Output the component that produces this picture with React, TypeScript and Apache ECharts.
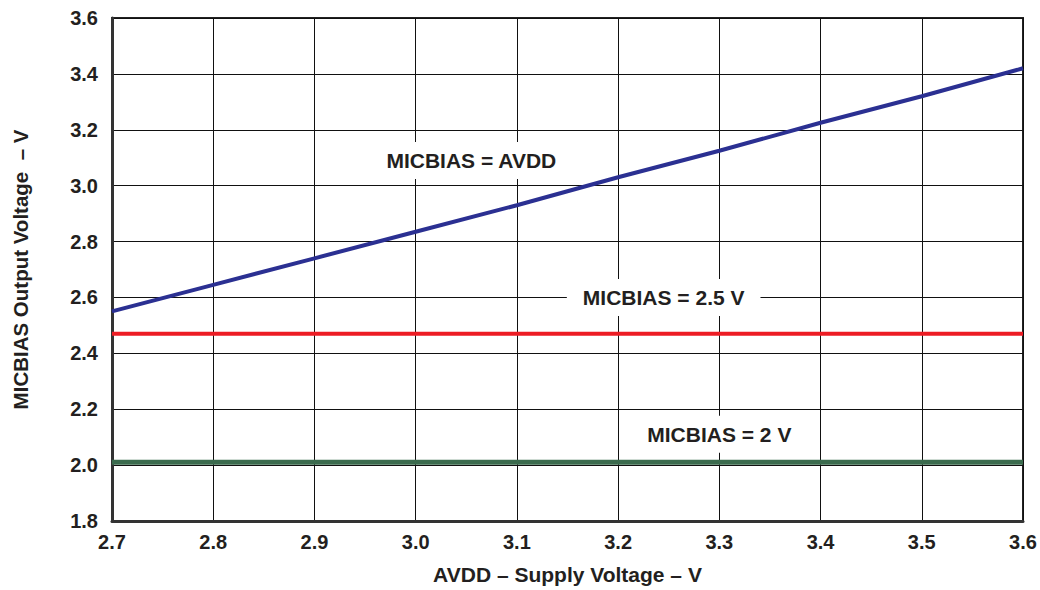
import React, { useEffect, useRef } from "react";
import * as echarts from "echarts";

const supplyVoltage = [2.7, 2.8, 2.9, 3.0, 3.1, 3.2, 3.3, 3.4, 3.5, 3.6];
const micbiasAvdd = [2.55, 2.645, 2.74, 2.835, 2.93, 3.03, 3.125, 3.225, 3.32, 3.42];
const micbias25 = [2.47, 2.47, 2.47, 2.47, 2.47, 2.47, 2.47, 2.47, 2.47, 2.47];
const micbias2 = [2.01, 2.01, 2.01, 2.01, 2.01, 2.01, 2.01, 2.01, 2.01, 2.01];

const annotations: [number, number, string][] = [
  [3.055, 3.09, "MICBIAS = AVDD"],
  [3.245, 2.6, "MICBIAS = 2.5 V"],
  [3.3, 2.11, "MICBIAS = 2 V"],
];

const FONT = "'Liberation Sans', Arial, Helvetica, sans-serif";
const TEXT = "#231f20";

export default function App() {
  const ref = useRef<HTMLDivElement>(null);
  useEffect(() => {
    if (!ref.current) return;
    const chart = echarts.init(ref.current, undefined, { renderer: "svg" });
    const pair = (ys: number[]) => supplyVoltage.map((x, i) => [x, ys[i]]);
    chart.setOption({
      animation: false,
      backgroundColor: "#ffffff",
      grid: {
        left: 112,
        right: 17,
        top: 18,
        bottom: 66,
        show: true,
        borderColor: "#222",
        borderWidth: 2,
        backgroundColor: "transparent",
      },
      xAxis: {
        type: "value",
        min: 2.7,
        max: 3.6,
        interval: 0.1,
        name: "AVDD – Supply Voltage – V",
        nameLocation: "middle",
        nameGap: 43,
        nameTextStyle: { fontFamily: FONT, fontWeight: "bold", fontSize: 21, color: TEXT },
        axisLine: { show: true, lineStyle: { color: "#333", width: 3 } },
        axisTick: { show: false },
        axisLabel: {
          fontFamily: FONT,
          fontWeight: "bold",
          fontSize: 20,
          color: TEXT,
          margin: 11,
          formatter: (v: number) => v.toFixed(1),
        },
        splitLine: { show: true, lineStyle: { color: "#111", width: 1 } },
      },
      yAxis: {
        type: "value",
        min: 1.8,
        max: 3.6,
        interval: 0.2,
        name: "MICBIAS Output Voltage  – V",
        nameLocation: "middle",
        nameGap: 81,
        nameTextStyle: { fontFamily: FONT, fontWeight: "bold", fontSize: 20.5, color: TEXT },
        axisLine: { show: true, lineStyle: { color: "#333", width: 3 } },
        axisTick: { show: false },
        axisLabel: {
          fontFamily: FONT,
          fontWeight: "bold",
          fontSize: 20,
          color: TEXT,
          margin: 14,
          formatter: (v: number) => v.toFixed(1),
        },
        splitLine: { show: true, lineStyle: { color: "#111", width: 1 } },
      },
      series: [
        {
          type: "line",
          data: pair(micbiasAvdd),
          showSymbol: false,
          symbol: "none",
          lineStyle: { color: "#2b3092", width: 4 },
        },
        {
          type: "line",
          data: pair(micbias25),
          showSymbol: false,
          symbol: "none",
          lineStyle: { color: "#ed1c24", width: 4 },
        },
        {
          type: "line",
          data: pair(micbias2),
          showSymbol: false,
          symbol: "none",
          lineStyle: { color: "#3b6b4e", width: 5 },
        },
        {
          type: "scatter",
          data: annotations,
          symbolSize: 0,
          z: 5,
          itemStyle: { opacity: 1, color: "transparent" },
          label: {
            show: true,
            position: "inside",
            formatter: (p: any) => p.value[2],
            fontFamily: FONT,
            fontWeight: "bold",
            fontSize: 21,
            color: TEXT,
            opacity: 1,
            backgroundColor: "#ffffff",
            padding: [8, 16],
          },
          emphasis: { disabled: true },
        },
      ],
    });
    return () => chart.dispose();
  }, []);
  return (
    <div
      ref={ref}
      style={{ position: "absolute", left: 0, top: 0, width: 1040, height: 590 }}
    />
  );
}
